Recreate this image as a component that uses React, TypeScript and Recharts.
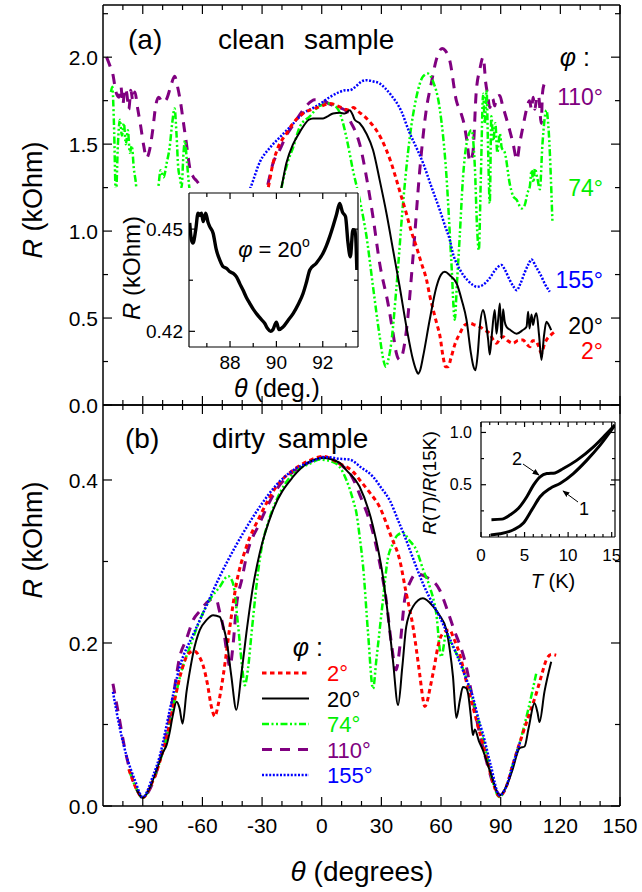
import React from "react";
import { LineChart, Line, XAxis, YAxis } from "recharts";

const FONT = "'Liberation Sans', Arial, Helvetica, sans-serif";

// ---- axes / ticks ----
const thetaTicks = [-100, -90, -80, -70, -60, -50, -40, -30, -20, -10, 0, 10, 20, 30, 40, 50, 60, 70, 80, 90, 100, 110, 120, 130, 140, 150];
const thetaMajor = [-90, -60, -30, 0, 30, 60, 90, 120, 150];
const cleanTicks = [0, 0.25, 0.5, 0.75, 1, 1.25, 1.5, 1.75, 2, 2.25];
const cleanMajor = [0, 0.5, 1, 1.5, 2];
const dirtyTicks = [0, 0.1, 0.2, 0.3, 0.4];
const dirtyMajor = [0, 0.2, 0.4];
const zoomThetaTicks = [87, 88, 89, 90, 91, 92, 93];
const zoomThetaMajor = [88, 90, 92];
const zoomRTicks = [0.42, 0.435, 0.45];
const zoomRMajor = [0.42, 0.45];
const tempTicks = [0, 1, 2, 3, 4, 5, 6, 7, 8, 9, 10, 11, 12, 13, 14, 15];
const tempMajor = [0, 5, 10, 15];
const ratioTicks = [0.25, 0.5, 0.75, 1];
const ratioMajor = [0.5, 1];

// ---- (a) clean sample: [theta deg, R kOhm] ----
const clean110 = [
  [-108.2, 2.0], [-106.5, 1.95], [-105, 1.9], [-103.5, 1.8], [-102, 1.77], [-101, 1.83], [-100, 1.73], [-99, 1.82],
  [-98, 1.79], [-97, 1.7], [-96, 1.81], [-95, 1.75], [-94, 1.8], [-92.5, 1.7], [-91, 1.6], [-89.5, 1.49], [-88.1, 1.42],
  [-86.5, 1.47], [-85, 1.58], [-83.5, 1.72], [-82, 1.77], [-80, 1.74], [-78, 1.76], [-76, 1.83], [-74, 1.89], [-72.5, 1.83],
  [-71, 1.74], [-69.5, 1.62], [-68, 1.5], [-66.3, 1.36], [-64.5, 1.31], [-63, 1.29], [-60.5, 1.245], [-58, 1.15], [-45, 0.9],
  [-30, 1.15], [-27.5, 1.25], [-24.5, 1.39], [-21, 1.47], [-17.8, 1.55], [-14.4, 1.61], [-11, 1.67], [-7.7, 1.72], [-3.5, 1.755],
  [0.7, 1.75], [4, 1.73], [9, 1.71], [12.4, 1.69], [14.1, 1.64], [17.4, 1.56], [19.1, 1.5], [22.5, 1.31], [25.8, 1.08],
  [29.2, 0.81], [33.4, 0.58], [35.9, 0.41], [37.5, 0.3], [39.2, 0.26], [40.8, 0.3], [42.6, 0.43], [45.9, 0.85], [49.3, 1.35],
  [52.6, 1.7], [55.1, 1.85], [57.5, 1.98], [60.5, 2.05], [62, 2.04], [64.4, 1.98], [67.7, 1.75], [70, 1.68], [71.5, 1.62],
  [73, 1.52], [74.5, 1.4], [76, 1.45], [77.7, 1.8], [79.5, 1.93], [81.2, 2.0], [82.5, 1.85], [83.5, 1.78], [84.5, 1.71],
  [86, 1.76], [87, 1.72], [87.9, 1.77], [89.5, 1.78], [91, 1.72], [92.8, 1.65], [94.5, 1.58], [96.1, 1.51], [98.2, 1.41],
  [99.5, 1.5], [101.2, 1.6], [103, 1.7], [104.5, 1.75], [105.5, 1.7], [106.3, 1.77], [107.2, 1.7], [108, 1.76], [109, 1.78],
  [110.4, 1.62], [111, 1.79], [112, 1.85],
];
const clean74 = [
  [-106, 1.8], [-105.3, 1.83], [-104.5, 1.62], [-103.5, 1.2], [-102.5, 1.5], [-101.5, 1.64], [-100.5, 1.55], [-99.5, 1.62],
  [-98.5, 1.5], [-97.5, 1.58], [-96.5, 1.45], [-95.5, 1.49], [-94.5, 1.36], [-93.5, 1.28], [-92.5, 1.15], [-88, 1.0], [-84, 1.1],
  [-82.2, 1.25], [-81, 1.35], [-79.5, 1.31], [-78, 1.39], [-76.5, 1.48], [-75.2, 1.62], [-74, 1.705], [-73, 1.55], [-72.2, 1.37],
  [-71.2, 1.3], [-70.5, 1.25], [-69.5, 1.45], [-68.8, 1.52], [-67.8, 1.4], [-66.5, 1.24], [-64, 1.1], [-45, 0.9], [-22, 1.15],
  [-19.5, 1.29], [-17, 1.4], [-14.4, 1.48], [-11, 1.6], [-6, 1.66], [-1, 1.72], [4, 1.734], [8.2, 1.7], [10.5, 1.63], [12.4, 1.54],
  [15.7, 1.35], [19.1, 1.18], [22.5, 0.97], [25.8, 0.68], [29.2, 0.39], [31, 0.26], [32.2, 0.22], [33.5, 0.26], [35, 0.36],
  [37.6, 0.68], [40.9, 1.16], [44.3, 1.54], [47.6, 1.77], [51, 1.89], [53.4, 1.906], [56, 1.86], [59.4, 1.7], [62.7, 1.32],
  [65.2, 0.82], [66.9, 0.49], [68, 0.7], [69.4, 0.97], [71, 1.3], [72.8, 1.5], [75.3, 1.58], [77, 1.37], [78.2, 1.0], [79, 0.89],
  [80, 1.3], [81.2, 1.79], [82, 1.62], [82.9, 1.81], [83.7, 1.45], [84.5, 1.16], [85.3, 1.66], [86.3, 1.52], [87.3, 1.62],
  [88.3, 1.45], [89.6, 1.56], [90.5, 1.48], [92.1, 1.45], [94.6, 1.27], [96.3, 1.2], [98, 1.18], [100.5, 1.13], [102.1, 1.15],
  [103.5, 1.22], [104.7, 1.26], [105.5, 1.35], [106.5, 1.28], [107.2, 1.36], [108.5, 1.3], [109.7, 1.24], [111, 1.5],
  [113, 1.695], [114, 1.6], [116, 1.06],
];
const clean155 = [
  [-40, 1.15], [-36, 1.245], [-31, 1.4], [-26, 1.48], [-21, 1.54], [-15, 1.61], [-9, 1.68], [-4, 1.71], [-1, 1.73], [4, 1.77],
  [9, 1.8], [12, 1.81], [14, 1.81], [17, 1.83], [20, 1.86], [22.5, 1.868], [26, 1.86], [29, 1.85], [32, 1.82], [35, 1.78],
  [40, 1.69], [44, 1.57], [48, 1.47], [51, 1.39], [55, 1.26], [59.4, 1.12], [62, 1.03], [64.4, 0.95], [66, 0.87], [68.5, 0.8],
  [71, 0.75], [74, 0.71], [76, 0.69], [78, 0.68], [81, 0.69], [84.5, 0.73], [87.5, 0.78], [90.4, 0.805], [92, 0.78], [94.5, 0.72],
  [96.5, 0.68], [98, 0.66], [100, 0.7], [102, 0.76], [104, 0.81], [105.5, 0.837], [107.5, 0.8], [110, 0.75], [112.5, 0.69],
  [114.7, 0.651],
];
const clean2 = [
  [-30, 1.12], [-27, 1.245], [-24.5, 1.39], [-22, 1.48], [-17.8, 1.56], [-14.4, 1.62], [-9.4, 1.676], [-5, 1.7], [-1, 1.714],
  [4, 1.734], [9, 1.714], [12, 1.7], [14, 1.695], [16, 1.71], [18, 1.69], [20.8, 1.667], [24, 1.63], [27.5, 1.58], [30, 1.53],
  [32.5, 1.466], [35, 1.39], [37.6, 1.293], [40, 1.2], [42.6, 1.1], [45, 1.0], [47.6, 0.91], [50, 0.82], [52.7, 0.72],
  [54.3, 0.63], [56, 0.55], [57.8, 0.47], [59.4, 0.4], [61, 0.28], [62.3, 0.22], [63.5, 0.22], [65, 0.27], [67, 0.35],
  [69.4, 0.41], [72, 0.46], [74.5, 0.47], [77, 0.46], [79.5, 0.45], [82, 0.43], [84.5, 0.41], [86.5, 0.37], [87.9, 0.355],
  [89.5, 0.38], [91.2, 0.393], [93.5, 0.37], [96.3, 0.355], [98.5, 0.37], [101.3, 0.374], [103, 0.35], [104.7, 0.335],
  [106, 0.37], [107.5, 0.37], [109, 0.34], [110.5, 0.297], [112, 0.35], [113, 0.374], [115, 0.4], [117.2, 0.421],
];
const clean20 = [
  [-24, 1.1], [-20.3, 1.25], [-17.8, 1.39], [-14.4, 1.5], [-11, 1.57], [-9.4, 1.6], [-6.5, 1.64], [-4.4, 1.648], [0.7, 1.648],
  [3, 1.66], [5.7, 1.676], [9.1, 1.68], [11.6, 1.676], [14.1, 1.695], [15.5, 1.67], [16.6, 1.64], [19.1, 1.62], [22.5, 1.56],
  [25.8, 1.466], [29.2, 1.29], [32.6, 1.1], [35.9, 0.89], [39.2, 0.68], [42.6, 0.45], [45.9, 0.26], [47.5, 0.2], [48.5, 0.18],
  [49.5, 0.2], [51, 0.28], [54.3, 0.49], [57.7, 0.68], [60, 0.75], [61.9, 0.766], [64.5, 0.745], [67.8, 0.7], [70.5, 0.6],
  [72.8, 0.49], [75, 0.3], [76.1, 0.23], [77.3, 0.2], [78.5, 0.3], [79.5, 0.45], [81.2, 0.546], [82.5, 0.48], [83.7, 0.374],
  [84.5, 0.29], [85.5, 0.4], [87, 0.546], [87.9, 0.41], [88.8, 0.5], [89.6, 0.584], [90.4, 0.383], [91.2, 0.55], [92, 0.48],
  [92.9, 0.45], [95, 0.43], [98, 0.41], [101, 0.43], [103, 0.45], [103.8, 0.536], [104.5, 0.44], [105.5, 0.52], [106.3, 0.46],
  [107, 0.5], [108, 0.527], [109.3, 0.4], [110.5, 0.259], [111.8, 0.4], [113, 0.479], [114.2, 0.46], [115.4, 0.431],
];

// inset of (a): phi = 20 deg near theta = 90
const zoom20 = [
  [86.26, 0.4518], [86.33, 0.447], [86.4, 0.4459], [86.52, 0.4498], [86.62, 0.4547], [86.7, 0.454], [86.77, 0.4547],
  [86.84, 0.4522], [86.95, 0.4547], [87.05, 0.452], [87.12, 0.4508], [87.27, 0.4488], [87.41, 0.4439], [87.56, 0.4409],
  [87.7, 0.439], [87.85, 0.4385], [87.99, 0.4375], [88.14, 0.437], [88.28, 0.436], [88.42, 0.434], [88.56, 0.4321],
  [88.7, 0.43], [88.85, 0.4282], [89.0, 0.4265], [89.14, 0.4252], [89.32, 0.4237], [89.5, 0.4223], [89.62, 0.4208],
  [89.75, 0.42], [89.85, 0.4205], [90.0, 0.4227], [90.11, 0.4205], [90.29, 0.4213], [90.5, 0.4232], [90.72, 0.4252],
  [90.95, 0.428], [91.15, 0.4311], [91.3, 0.4345], [91.44, 0.438], [91.72, 0.44], [92.01, 0.4429], [92.15, 0.445],
  [92.3, 0.4478], [92.45, 0.451], [92.59, 0.4542], [92.73, 0.4575], [92.85, 0.455], [92.98, 0.4537], [93.09, 0.4459],
  [93.19, 0.4419], [93.3, 0.4498], [93.4, 0.4495], [93.47, 0.438],
];

// ---- (b) dirty sample ----
const dirty2 = [
  [-97, 0.045], [-93, 0.02], [-90, 0.01], [-86, 0.025], [-82, 0.05], [-78, 0.085], [-74, 0.13], [-70, 0.17], [-67, 0.187],
  [-64, 0.19], [-61.5, 0.183], [-59.6, 0.172], [-57.5, 0.15], [-55.5, 0.122], [-53.8, 0.11], [-52, 0.125], [-49.6, 0.159],
  [-46.2, 0.22], [-42.9, 0.273], [-37.9, 0.318], [-31.2, 0.355], [-22.8, 0.392], [-14.4, 0.412], [-6, 0.424], [0.7, 0.429],
  [9, 0.42], [15.8, 0.41], [19.1, 0.4], [24, 0.385], [29.1, 0.367], [35, 0.33], [39.2, 0.302], [42.5, 0.261], [45.9, 0.22],
  [49.2, 0.163], [51, 0.13], [51.8, 0.122], [53, 0.128], [54.5, 0.145], [56, 0.163], [59.3, 0.204], [62, 0.214], [64.3, 0.216],
  [66.5, 0.205], [69.3, 0.187], [72.5, 0.155], [76, 0.122], [79.5, 0.09], [82.8, 0.06], [86, 0.03], [89.4, 0.012], [93, 0.025],
  [96, 0.05], [99.5, 0.077], [104, 0.11], [107.9, 0.138], [110.5, 0.16], [112.9, 0.179], [115.5, 0.186], [117.9, 0.185],
];
const dirty20 = [
  [-93, 0.02], [-90, 0.01], [-86, 0.025], [-83, 0.045], [-80, 0.065], [-78, 0.075], [-76.5, 0.09], [-75, 0.11], [-73, 0.128],
  [-71.5, 0.12], [-70, 0.101], [-68, 0.14], [-66, 0.17], [-64.7, 0.187], [-61.3, 0.216], [-58, 0.228], [-54.6, 0.234],
  [-51.3, 0.232], [-49.5, 0.22], [-47.9, 0.204], [-45.5, 0.16], [-42.9, 0.118], [-40.5, 0.16], [-37.9, 0.212], [-34.5, 0.27],
  [-31.2, 0.31], [-24.5, 0.363], [-14.4, 0.404], [0.7, 0.427], [9, 0.421], [12.4, 0.412], [19, 0.392], [25.8, 0.343],
  [30.8, 0.281], [33.5, 0.23], [35.8, 0.179], [38.4, 0.124], [40.5, 0.17], [42.5, 0.22], [46, 0.245], [50.9, 0.255], [56, 0.245],
  [59, 0.235], [62.7, 0.216], [64.5, 0.19], [66, 0.159], [67.7, 0.108], [69.5, 0.13], [71, 0.146], [72.5, 0.145], [73.6, 0.138],
  [75, 0.11], [76, 0.087], [77, 0.094], [79, 0.08], [81, 0.069], [85, 0.04], [89.4, 0.013], [93, 0.025], [96, 0.045],
  [99.5, 0.071], [102, 0.073], [104, 0.095], [107, 0.126], [108.5, 0.115], [109.5, 0.103], [112, 0.14], [115.4, 0.177],
];
const dirty74 = [
  [-97, 0.045], [-93, 0.02], [-90, 0.01], [-86, 0.025], [-82, 0.05], [-78, 0.085], [-74, 0.13], [-70, 0.17], [-66.3, 0.195],
  [-61.3, 0.228], [-56.3, 0.253], [-51, 0.27], [-47.9, 0.281], [-47, 0.282], [-44.6, 0.273], [-42, 0.22], [-40, 0.17],
  [-38.7, 0.148], [-37, 0.17], [-35.3, 0.212], [-31.2, 0.302], [-26, 0.355], [-22.8, 0.375], [-14.4, 0.408], [-6, 0.42],
  [-1, 0.425], [5.7, 0.422], [9, 0.416], [12.4, 0.4], [15.8, 0.375], [17.4, 0.36], [19.1, 0.33], [20.8, 0.294], [23.3, 0.212],
  [25.8, 0.144], [27.5, 0.18], [30.8, 0.253], [33, 0.3], [35.8, 0.322], [38, 0.332], [40.9, 0.335], [44, 0.326], [47.6, 0.314],
  [51, 0.29], [54.3, 0.269], [57.6, 0.236], [60.1, 0.183], [62.7, 0.212], [65, 0.2], [69.3, 0.179], [76, 0.13], [82.8, 0.065],
  [86, 0.03], [89.4, 0.011], [93, 0.025], [96, 0.05], [99.5, 0.077], [104, 0.12], [107.9, 0.163],
];
const dirty110 = [
  [-105, 0.15], [-102, 0.11], [-99, 0.07], [-96, 0.04], [-93, 0.02], [-90, 0.01], [-87, 0.018], [-84, 0.035], [-81, 0.06],
  [-78, 0.09], [-75, 0.13], [-71.4, 0.183], [-68, 0.205], [-64.7, 0.228], [-61, 0.24], [-58, 0.249], [-55, 0.254], [-53, 0.253],
  [-51.5, 0.24], [-49.6, 0.22], [-47.8, 0.19], [-46.2, 0.171], [-44.5, 0.2], [-42.9, 0.245], [-40, 0.28], [-37.9, 0.306],
  [-31.2, 0.347], [-22.8, 0.388], [-14.4, 0.41], [-6, 0.422], [0.7, 0.428], [10, 0.418], [15, 0.405], [19.1, 0.382],
  [25.8, 0.335], [29, 0.3], [32.4, 0.253], [35, 0.2], [37.4, 0.167], [39.5, 0.2], [41.7, 0.253], [44.5, 0.275], [47.6, 0.285],
  [52.6, 0.281], [59.3, 0.265], [62.5, 0.245], [66, 0.22], [72.7, 0.171], [76, 0.13], [79.4, 0.089], [84, 0.045], [87, 0.022],
  [90, 0.012],
];
const dirty155 = [
  [-105, 0.14], [-101.5, 0.095], [-98, 0.06], [-94, 0.032], [-90, 0.011], [-85, 0.036], [-81.4, 0.062], [-76.4, 0.118],
  [-71.4, 0.171], [-64.7, 0.21], [-60, 0.235], [-56.3, 0.255], [-52, 0.278], [-47.9, 0.298], [-43.5, 0.318], [-39.5, 0.335],
  [-31.2, 0.367], [-22.8, 0.394], [-14.4, 0.412], [-6, 0.422], [2.4, 0.428], [9, 0.426], [14, 0.425], [20, 0.415], [25.8, 0.404],
  [30, 0.39], [34.2, 0.375], [38.5, 0.35], [42.5, 0.326], [46.5, 0.3], [50.9, 0.273], [55, 0.252], [59.3, 0.232], [63.5, 0.21],
  [67.7, 0.187], [72, 0.16], [76, 0.134], [79, 0.105], [81, 0.089], [85, 0.05], [89.4, 0.013], [93, 0.025], [96, 0.05], [100, 0.08],
];

// inset of (b): R(T)/R(15K) vs T (K)
const ratio1 = [
  [1.1, 0.02], [2.2, 0.031], [3.73, 0.069], [4.87, 0.133], [5.83, 0.259], [6.78, 0.385], [7.93, 0.465], [9.07, 0.512],
  [10.6, 0.607], [12.13, 0.733], [13.65, 0.876], [15.37, 1.07],
];
const ratio2 = [
  [1.2, 0.165], [2.4, 0.171], [3.35, 0.212], [4.3, 0.275], [5.26, 0.385], [6.02, 0.496], [6.78, 0.575], [7.55, 0.607],
  [8.5, 0.613], [9.45, 0.655], [10.98, 0.733], [12.88, 0.86], [14.4, 0.987], [15.37, 1.07],
];

const STY: Record<string, { stroke: string; strokeWidth: number; strokeDasharray?: string }> = {
  p2: { stroke: "#ff0000", strokeWidth: 3, strokeDasharray: "4.5 3.5" },
  p20: { stroke: "#000000", strokeWidth: 2 },
  p74: { stroke: "#00ff00", strokeWidth: 2.5, strokeDasharray: "7 2.5 2 2.5 2 2.5" },
  p110: { stroke: "#800080", strokeWidth: 3, strokeDasharray: "10 8" },
  p155: { stroke: "#0000ff", strokeWidth: 2.5, strokeDasharray: "2 1.6" },
};

const toXY = (pts: number[][]) => pts.map(([x, y]) => ({ x, y }));

type Side = "bottom" | "top" | "left" | "right";
interface TickOpts {
  side: Side;
  major: number[];
  long: number;
  short: number;
  fmt?: (v: number) => string;
  size?: number;
  gap?: number;
}

function tickFn(o: TickOpts) {
  return (props: any) => {
    const { x, y, payload } = props;
    const v = Number(payload.value);
    const isMajor = o.major.some((m) => Math.abs(m - v) < 1e-9);
    const len = isMajor ? o.long : o.short;
    const dx = o.side === "left" ? len : o.side === "right" ? -len : 0;
    const dy = o.side === "bottom" ? -len : o.side === "top" ? len : 0;
    const size = o.size ?? 21;
    const gap = o.gap ?? 6;
    let label = null;
    if (o.fmt && isMajor) {
      if (o.side === "bottom") {
        label = (
          <text x={x} y={y + gap + size * 0.72} textAnchor="middle" fontSize={size} fontFamily={FONT} fill="#000">
            {o.fmt(v)}
          </text>
        );
      } else if (o.side === "left") {
        label = (
          <text x={x - gap} y={y + size * 0.36} textAnchor="end" fontSize={size} fontFamily={FONT} fill="#000">
            {o.fmt(v)}
          </text>
        );
      }
    }
    return (
      <g>
        <line x1={x} y1={y} x2={x + dx} y2={y + dy} stroke="#000" strokeWidth={1.2} />
        {label}
      </g>
    );
  };
}

interface FrameOpts {
  xDomain: number[];
  yDomain: number[];
  xTicks: number[];
  xMajor: number[];
  yTicks: number[];
  yMajor: number[];
  yWidth: number;
  long: number;
  short: number;
  xFmt?: (v: number) => string;
  yFmt?: (v: number) => string;
  xSize?: number;
  ySize?: number;
  xGap?: number;
  yGap?: number;
  line?: number;
  xHeight?: number;
}

// four-sided frame, ticks pointing inwards; axes of size 1 so they are still drawn
function frame(f: FrameOpts) {
  const axisLine = { stroke: "#000", strokeWidth: f.line ?? 1.5 };
  const common = { type: "number" as const, allowDataOverflow: true, interval: 0, tickSize: 0, tickMargin: 0, tickLine: false, axisLine };
  return [
    <XAxis key="xb" xAxisId="b" dataKey="x" orientation="bottom" height={f.xHeight ?? 1} domain={f.xDomain} ticks={f.xTicks} {...common}
      tick={tickFn({ side: "bottom", major: f.xMajor, long: f.long, short: f.short, fmt: f.xFmt, size: f.xSize, gap: f.xGap })} />,
    <XAxis key="xt" xAxisId="t" dataKey="x" orientation="top" height={1} domain={f.xDomain} ticks={f.xTicks} {...common}
      tick={tickFn({ side: "top", major: f.xMajor, long: f.long, short: f.short })} />,
    <YAxis key="yl" yAxisId="l" orientation="left" width={f.yWidth} domain={f.yDomain} ticks={f.yTicks} {...common}
      tick={tickFn({ side: "left", major: f.yMajor, long: f.long, short: f.short, fmt: f.yFmt, size: f.ySize, gap: f.yGap })} />,
    <YAxis key="yr" yAxisId="r" orientation="right" width={1} domain={f.yDomain} ticks={f.yTicks} {...common}
      tick={tickFn({ side: "right", major: f.yMajor, long: f.long, short: f.short })} />,
  ];
}

function series(key: string, pts: number[][], sty: string, width?: number) {
  const s = STY[sty] ?? { stroke: "#000", strokeWidth: width ?? 2 };
  return (
    <Line key={key} xAxisId="b" yAxisId="l" data={toXY(pts)} dataKey="y" type="monotone" dot={false} activeDot={false}
      isAnimationActive={false} stroke={s.stroke} strokeWidth={width ?? s.strokeWidth} strokeDasharray={s.strokeDasharray} />
  );
}

const fmt1 = (v: number) => v.toFixed(1);
const fmt2 = (v: number) => v.toFixed(2);
const fmtInt = (v: number) => String(v);

const legendRows = [
  { label: "2°", sty: "p2", color: "#ff0000" },
  { label: "20°", sty: "p20", color: "#000000" },
  { label: "74°", sty: "p74", color: "#00ee00" },
  { label: "110°", sty: "p110", color: "#800080" },
  { label: "155°", sty: "p155", color: "#0000ff" },
];

const sideLabels = [
  { label: "110°", y: 105, color: "#800080" },
  { label: "74°", y: 196, color: "#00ee00" },
  { label: "155°", y: 288, color: "#0000ff" },
  { label: "20°", y: 334, color: "#000000" },
  { label: "2°", y: 359, color: "#ff0000" },
];

export default function App() {
  return (
    <div style={{ position: "absolute", left: 0, top: 0, width: 642, height: 892, background: "#fff", fontFamily: FONT }}>
      {/* (a) clean sample */}
      <div style={{ position: "absolute", left: 0, top: 0 }}>
        <LineChart width={642} height={430} margin={{ top: 4, right: 21, bottom: 24, left: 0 }}>
          {frame({
            xDomain: [-110, 150], yDomain: [0, 2.3], xTicks: thetaTicks, xMajor: thetaMajor, yTicks: cleanTicks,
            yMajor: cleanMajor, yWidth: 103, long: 9, short: 5, yFmt: fmt1, ySize: 21, yGap: 5,
          })}
          {series("a110", clean110, "p110")}
          {series("a74", clean74, "p74")}
          {series("a155", clean155, "p155")}
          {series("a2", clean2, "p2")}
          {series("a20", clean20, "p20")}
        </LineChart>
      </div>

      {/* (b) dirty sample */}
      <div style={{ position: "absolute", left: 0, top: 400 }}>
        <LineChart width={642} height={492} margin={{ top: 4, right: 21, bottom: 85, left: 0 }}>
          {frame({
            xDomain: [-110, 150], yDomain: [0, 0.492], xTicks: thetaTicks, xMajor: thetaMajor, yTicks: dirtyTicks,
            yMajor: dirtyMajor, yWidth: 103, long: 9, short: 5, xFmt: fmtInt, yFmt: fmt1, xSize: 21, ySize: 21, xGap: 12, yGap: 5,
          })}
          {series("b110", dirty110, "p110")}
          {series("b74", dirty74, "p74")}
          {series("b2", dirty2, "p2")}
          {series("b20", dirty20, "p20")}
          {series("b155", dirty155, "p155")}
        </LineChart>
      </div>

      {/* inset of (a), white panel hides the curves beneath it */}
      <div style={{ position: "absolute", left: 114, top: 188, width: 246, height: 204, background: "#fff" }}>
        <LineChart width={246} height={204} margin={{ top: 4, right: 1, bottom: 0, left: 0 }}>
          {frame({
            xDomain: [86.23, 93.52], yDomain: [0.4154, 0.4606], xTicks: zoomThetaTicks, xMajor: zoomThetaMajor,
            yTicks: zoomRTicks, yMajor: zoomRMajor, yWidth: 75, long: 6, short: 4, xFmt: fmtInt, yFmt: fmt2,
            xSize: 19, ySize: 19, xGap: 8, yGap: 6, line: 1.2, xHeight: 45,
          })}
          {series("z20", zoom20, "black", 3.4)}
        </LineChart>
      </div>

      {/* inset of (b) */}
      <div style={{ position: "absolute", left: 440, top: 418, width: 180, height: 162 }}>
        <LineChart width={180} height={162} margin={{ top: 3, right: 4, bottom: 0, left: 0 }}>
          {frame({
            xDomain: [0, 15.38], yDomain: [0, 1.1], xTicks: tempTicks, xMajor: tempMajor, yTicks: ratioTicks,
            yMajor: ratioMajor, yWidth: 41, long: 5, short: 3, xFmt: fmtInt, yFmt: fmt1, xSize: 17, ySize: 16,
            xGap: 12, yGap: 9, line: 1.2, xHeight: 43,
          })}
          {series("r1", ratio1, "black", 3)}
          {series("r2", ratio2, "black", 3)}
        </LineChart>
      </div>

      {/* annotations */}
      <svg width={642} height={892} style={{ position: "absolute", left: 0, top: 0, pointerEvents: "none" }} fontFamily={FONT}>
        <defs>
          <marker id="arr" viewBox="0 0 10 10" refX="9" refY="5" markerWidth="7" markerHeight="7" orient="auto">
            <path d="M0,1 L10,5 L0,9 z" fill="#000" />
          </marker>
        </defs>

        <text x={128} y={49} fontSize={28}>(a)</text>
        <text x={218} y={49} fontSize={28}>clean</text>
        <text x={304} y={49} fontSize={28}>sample</text>
        <text x={125} y={448} fontSize={28}>(b)</text>
        <text x={212} y={448} fontSize={28}>dirty</text>
        <text x={278} y={448} fontSize={28}>sample</text>

        <text x={590} y={66} textAnchor="end" fontSize={25}>
          <tspan fontStyle="italic">φ</tspan> :
        </text>
        {sideLabels.map((s) => (
          <text key={s.label} x={603} y={s.y} textAnchor="end" fontSize={23} fill={s.color}>{s.label}</text>
        ))}

        <text x={323} y={656} textAnchor="end" fontSize={25}>
          <tspan fontStyle="italic">φ</tspan> :
        </text>
        {legendRows.map((r, i) => {
          const s = STY[r.sty];
          const y = 673 + i * 25.5;
          return (
            <g key={r.label}>
              <line x1={262} x2={309} y1={y} y2={y} stroke={s.stroke} strokeWidth={s.strokeWidth} strokeDasharray={s.strokeDasharray} />
              <text x={327} y={y + 8} fontSize={22} fill={r.color}>{r.label}</text>
            </g>
          );
        })}

        <text transform="translate(42,200) rotate(-90)" textAnchor="middle" fontSize={27}>
          <tspan fontStyle="italic">R</tspan> (kOhm)
        </text>
        <text transform="translate(42,540) rotate(-90)" textAnchor="middle" fontSize={27}>
          <tspan fontStyle="italic">R</tspan> (kOhm)
        </text>
        <text x={362} y={881} textAnchor="middle" fontSize={28}>
          <tspan fontStyle="italic">θ</tspan> (degrees)
        </text>

        <text transform="translate(140,268) rotate(-90)" textAnchor="middle" fontSize={24}>
          <tspan fontStyle="italic">R</tspan> (kOhm)
        </text>
        <text x={277} y={397} textAnchor="middle" fontSize={25}>
          <tspan fontStyle="italic">θ</tspan> (deg.)
        </text>
        <text x={274} y={257} textAnchor="middle" fontSize={22}>
          <tspan fontStyle="italic">φ</tspan> = 20<tspan fontSize={14} dy={-10}>o</tspan>
        </text>

        <text transform="translate(436,483) rotate(-90)" textAnchor="middle" fontSize={19}>
          <tspan fontStyle="italic">R</tspan>(<tspan fontStyle="italic">T</tspan>)/<tspan fontStyle="italic">R</tspan>(15K)
        </text>
        <text x={553} y={588} textAnchor="middle" fontSize={20}>
          <tspan fontStyle="italic">T</tspan> (K)
        </text>
        <text x={517} y={465} textAnchor="middle" fontSize={18}>2</text>
        <line x1={523} y1={464} x2={539} y2={475} stroke="#000" strokeWidth={1} markerEnd="url(#arr)" />
        <text x={584} y={515} textAnchor="middle" fontSize={18}>1</text>
        <line x1={578} y1={502} x2={563} y2={491} stroke="#000" strokeWidth={1} markerEnd="url(#arr)" />
      </svg>
    </div>
  );
}
